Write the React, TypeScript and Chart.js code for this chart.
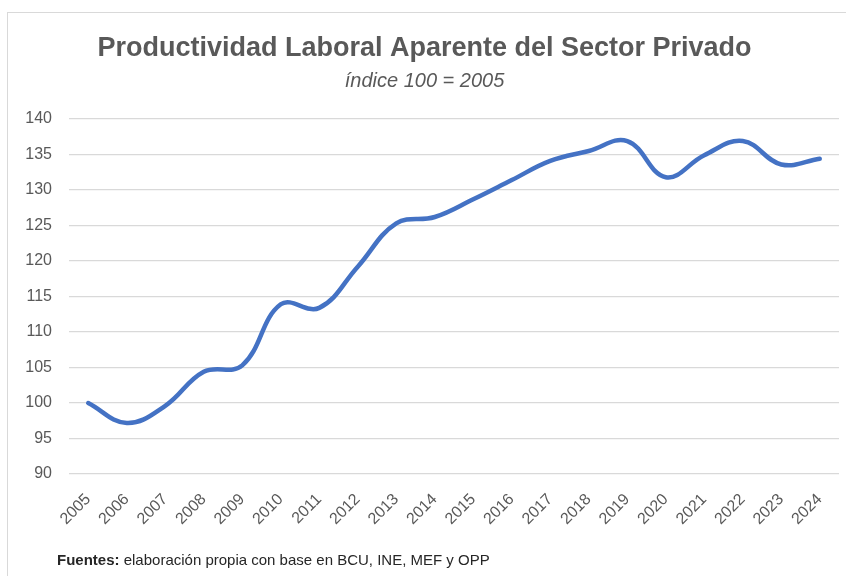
import React, { useEffect, useRef } from "react";
import { Chart, registerables } from "chart.js";

Chart.register(...registerables);

const years = ["2005","2006","2007","2008","2009","2010","2011","2012","2013","2014","2015","2016","2017","2018","2019","2020","2021","2022","2023","2024"];
const productividad = [100, 97.2, 99.6, 104.4, 105.3, 113.9, 113.4, 119.2, 125.3, 126.2, 128.7, 131.4, 134.1, 135.5, 136.9, 131.8, 134.9, 136.9, 133.6, 134.4];
const titleText = "Productividad Laboral Aparente del Sector Privado";
const subtitleText = "índice 100 = 2005";
const yMin = 90;
const yMax = 140;
const yStep = 5;

const FONT = "'Liberation Sans', Arial, sans-serif";

export default function App() {
  const ref = useRef<HTMLCanvasElement | null>(null);

  useEffect(() => {
    if (!ref.current) return;
    const chart = new Chart(ref.current, {
      type: "line",
      data: {
        labels: years,
        datasets: [
          {
            data: productividad,
            borderColor: "#4472C4",
            borderWidth: 4.5,
            pointRadius: 0,
            tension: 0.4,
            fill: false,
            borderCapStyle: "round",
          },
        ],
      },
      options: {
        responsive: false,
        animation: false,
        layout: { padding: { left: 10, right: 7, top: 0, bottom: 40 } },
        plugins: {
          legend: { display: false },
          tooltip: { enabled: false },
          title: {
            display: true,
            text: titleText,
            color: "#595959",
            font: { family: FONT, size: 27, weight: "bold" },
            padding: { top: 32, bottom: 0 },
          },
          subtitle: {
            display: true,
            text: subtitleText,
            color: "#595959",
            font: { family: FONT, size: 20, style: "italic" },
            padding: { top: 5, bottom: 25.6 },
          },
        },
        scales: {
          x: {
            offset: true,
            grid: { display: false },
            border: { display: false },
            ticks: {
              color: "#595959",
              font: { family: FONT, size: 16 },
              minRotation: 45,
              maxRotation: 45,
              padding: 8,
            },
            afterFit: (scale: any) => {
              scale.height = 62;
            },
          },
          y: {
            min: yMin,
            max: yMax,
            grid: { color: "#d9d9d9", lineWidth: 1.3, drawTicks: false },
            border: { display: false },
            ticks: {
              stepSize: yStep,
              color: "#595959",
              font: { family: FONT, size: 16 },
              padding: 17,
            },
            afterFit: (scale: any) => {
              scale.width = 59;
            },
          },
        },
      },
    });
    return () => chart.destroy();
  }, []);

  return (
    <div style={{ position: "fixed", left: 0, top: 0, width: 846, height: 576, overflow: "hidden", background: "#fff" }}>
      <div style={{ position: "absolute", left: 7, top: 12, width: 900, height: 700, border: "1px solid #d9d9d9", boxSizing: "border-box" }} />
      <canvas ref={ref} width={846} height={576} style={{ position: "absolute", left: 0, top: 0, width: 846, height: 576 }} />
      <div style={{ position: "absolute", left: 57, top: 551, fontFamily: FONT, fontSize: 15, color: "#262626", whiteSpace: "nowrap" }}>
        <b>Fuentes:</b> elaboración propia con base en BCU, INE, MEF y OPP
      </div>
    </div>
  );
}
